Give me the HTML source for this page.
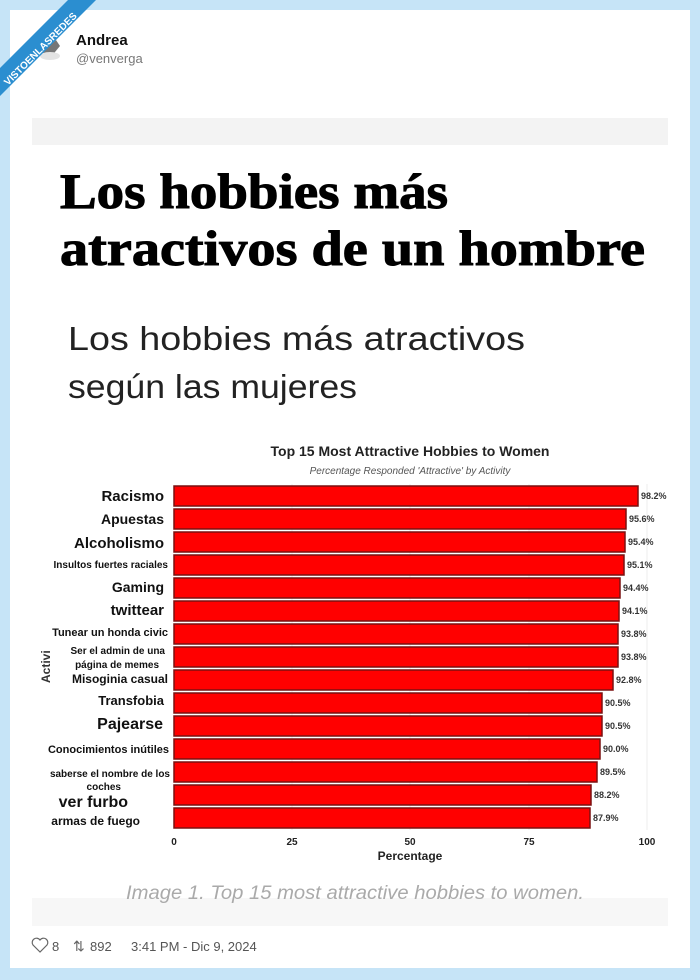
<!DOCTYPE html>
<html><head><meta charset="utf-8"><style>
html,body{margin:0;padding:0;background:#c6e4f7;}
svg{display:block}
</style></head><body>
<svg width="700" height="980" viewBox="0 0 700 980" xmlns="http://www.w3.org/2000/svg" font-family="Liberation Sans, sans-serif">
<rect width="700" height="980" fill="#c6e4f7"/>
<rect x="10" y="10" width="680" height="958" fill="#fff"/>
<g opacity="0.8"><path d="M42 52 L56 40 L60 46 L50 58 Z" fill="#555"/><ellipse cx="50" cy="56" rx="10" ry="4" fill="#ddd"/></g>
<text x="76" y="45" font-size="15" font-weight="bold" fill="#111">Andrea</text>
<text x="76" y="63" font-size="13" fill="#777">@venverga</text>
<polygon points="0,68 68,0 96,0 0,96" fill="#2b8ed0"/>
<text x="0" y="0" font-size="10" font-weight="bold" fill="#fff" transform="translate(8,86) rotate(-45)">VISTOENLASREDES</text>
<text x="0" y="0" font-size="8" font-weight="bold" fill="#fff" transform="translate(70,36) rotate(-45)">.com</text>
<rect x="32" y="118" width="636" height="808" fill="#fff"/>
<rect x="32" y="118" width="636" height="27" fill="#f3f3f3"/>
<rect x="32" y="898" width="636" height="28" fill="#f7f7f7"/>
<text x="60" y="208" font-family="Liberation Serif, serif" font-weight="bold" font-size="50" fill="#000" textLength="388" lengthAdjust="spacingAndGlyphs" stroke="#000" stroke-width="1">Los hobbies más</text>
<text x="60" y="265" font-family="Liberation Serif, serif" font-weight="bold" font-size="50" fill="#000" textLength="585" lengthAdjust="spacingAndGlyphs" stroke="#000" stroke-width="1">atractivos de un hombre</text>
<text x="68" y="350" font-size="33" fill="#222" textLength="457" lengthAdjust="spacingAndGlyphs">Los hobbies más atractivos</text>
<text x="68" y="398" font-size="33" fill="#222" textLength="289" lengthAdjust="spacingAndGlyphs">según las mujeres</text>
<text x="410" y="456" font-size="14" font-weight="bold" fill="#222" text-anchor="middle">Top 15 Most Attractive Hobbies to Women</text>
<text x="410" y="474" font-size="10" font-style="italic" fill="#555" text-anchor="middle">Percentage Responded 'Attractive' by Activity</text>
<g stroke="#eee" stroke-width="1">
<line x1="292" y1="484" x2="292" y2="830"/><line x1="410" y1="484" x2="410" y2="830"/><line x1="529" y1="484" x2="529" y2="830"/><line x1="647" y1="484" x2="647" y2="830"/>
</g>
<g font-size="9" fill="#333" font-weight="bold">
<rect x="174" y="486" width="464" height="20" fill="#f00" stroke="#7a1010" stroke-width="1.5"/><text x="641" y="499">98.2%</text>
<rect x="174" y="509" width="452" height="20" fill="#f00" stroke="#7a1010" stroke-width="1.5"/><text x="629" y="522">95.6%</text>
<rect x="174" y="532" width="451" height="20" fill="#f00" stroke="#7a1010" stroke-width="1.5"/><text x="628" y="545">95.4%</text>
<rect x="174" y="555" width="450" height="20" fill="#f00" stroke="#7a1010" stroke-width="1.5"/><text x="627" y="568">95.1%</text>
<rect x="174" y="578" width="446" height="20" fill="#f00" stroke="#7a1010" stroke-width="1.5"/><text x="623" y="591">94.4%</text>
<rect x="174" y="601" width="445" height="20" fill="#f00" stroke="#7a1010" stroke-width="1.5"/><text x="622" y="614">94.1%</text>
<rect x="174" y="624" width="444" height="20" fill="#f00" stroke="#7a1010" stroke-width="1.5"/><text x="621" y="637">93.8%</text>
<rect x="174" y="647" width="444" height="20" fill="#f00" stroke="#7a1010" stroke-width="1.5"/><text x="621" y="660">93.8%</text>
<rect x="174" y="670" width="439" height="20" fill="#f00" stroke="#7a1010" stroke-width="1.5"/><text x="616" y="683">92.8%</text>
<rect x="174" y="693" width="428" height="20" fill="#f00" stroke="#7a1010" stroke-width="1.5"/><text x="605" y="706">90.5%</text>
<rect x="174" y="716" width="428" height="20" fill="#f00" stroke="#7a1010" stroke-width="1.5"/><text x="605" y="729">90.5%</text>
<rect x="174" y="739" width="426" height="20" fill="#f00" stroke="#7a1010" stroke-width="1.5"/><text x="603" y="752">90.0%</text>
<rect x="174" y="762" width="423" height="20" fill="#f00" stroke="#7a1010" stroke-width="1.5"/><text x="600" y="775">89.5%</text>
<rect x="174" y="785" width="417" height="20" fill="#f00" stroke="#7a1010" stroke-width="1.5"/><text x="594" y="798">88.2%</text>
<rect x="174" y="808" width="416" height="20" fill="#f00" stroke="#7a1010" stroke-width="1.5"/><text x="593" y="821">87.9%</text>
</g>
<g font-weight="bold" fill="#111" text-anchor="end">
<text x="164" y="501" font-size="15">Racismo</text>
<text x="164" y="524" font-size="14">Apuestas</text>
<text x="164" y="548" font-size="15">Alcoholismo</text>
<text x="168" y="568" font-size="10">Insultos fuertes raciales</text>
<text x="164" y="592" font-size="14">Gaming</text>
<text x="164" y="615" font-size="15">twittear</text>
<text x="168" y="636" font-size="11">Tunear un honda civic</text>
<text x="165" y="654" font-size="10">Ser el admin de una</text>
<text x="159" y="668" font-size="10">página de memes</text>
<text x="168" y="683" font-size="12">Misoginia casual</text>
<text x="164" y="705" font-size="13">Transfobia</text>
<text x="163" y="729" font-size="16">Pajearse</text>
<text x="169" y="753" font-size="11">Conocimientos inútiles</text>
<text x="170" y="777" font-size="10">saberse el nombre de los</text>
<text x="121" y="790" font-size="10">coches</text>
<text x="128" y="807" font-size="16">ver furbo</text>
<text x="140" y="825" font-size="12">armas de fuego</text>
</g>
<text x="0" y="0" font-size="12" font-weight="bold" fill="#333" transform="translate(50,683) rotate(-90)">Activi</text>
<g font-size="10" font-weight="bold" fill="#222" text-anchor="middle">
<text x="174" y="845">0</text><text x="292" y="845">25</text><text x="410" y="845">50</text><text x="529" y="845">75</text><text x="647" y="845">100</text>
</g>
<text x="410" y="860" font-size="12" font-weight="bold" fill="#222" text-anchor="middle">Percentage</text>
<text x="355" y="899" font-size="19" font-style="italic" fill="#aaa" text-anchor="middle" textLength="458" lengthAdjust="spacingAndGlyphs">Image 1. Top 15 most attractive hobbies to women.</text>
<path d="M40 952 L33 945 A3.5 3.5 0 0 1 40 940 A3.5 3.5 0 0 1 47 945 Z" fill="none" stroke="#666" stroke-width="1.2"/>
<text x="52" y="951" font-size="13" fill="#555">8</text>
<text x="73" y="951" font-size="14" fill="#666">⇅</text>
<text x="90" y="951" font-size="13" fill="#555">892</text>
<text x="131" y="951" font-size="13" fill="#555">3:41 PM - Dic 9, 2024</text>
</svg>
</body></html>
